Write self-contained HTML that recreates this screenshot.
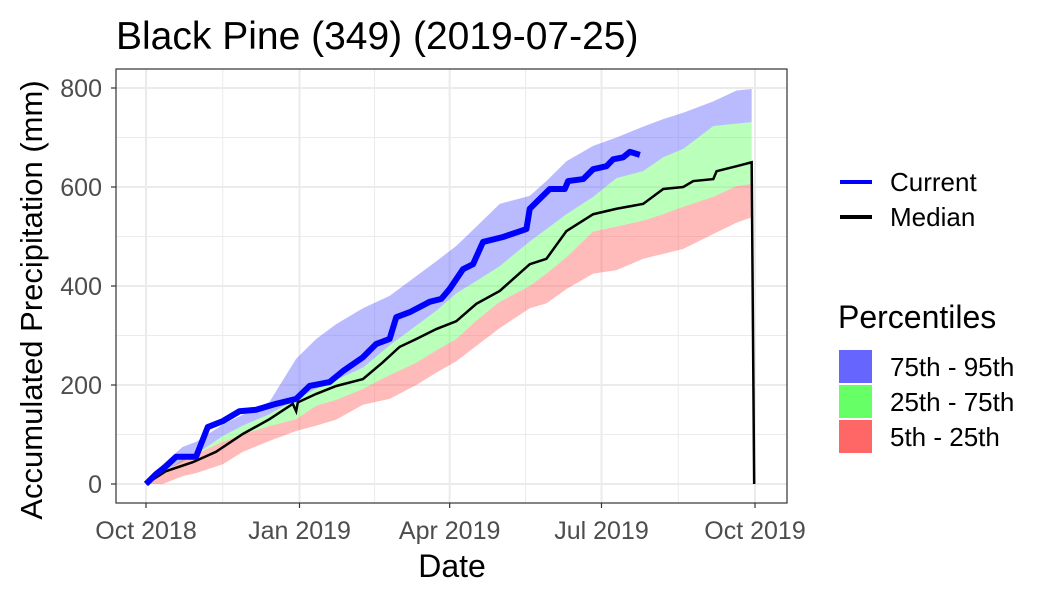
<!DOCTYPE html>
<html><head><meta charset="utf-8"><style>
body{margin:0;background:#fff;font-family:"Liberation Sans",sans-serif}
</style></head><body>
<svg id="c" width="1050" height="600" xmlns="http://www.w3.org/2000/svg">
<text x="116" y="49" font-size="39" fill="#000">Black Pine (349) (2019-07-25)</text>
<rect x="116" y="69" width="671" height="434" fill="#fff" stroke="none"/>
<g id="grid"></g><g id="bands"></g><g id="lines"></g>
<rect x="116" y="69" width="671" height="434" fill="none" stroke="#333" stroke-width="1.2"/>
<g id="axes" font-size="25" fill="#4d4d4d"></g>
<text x="452" y="577" font-size="32" text-anchor="middle">Date</text>
<text transform="translate(42,300) rotate(-90)" font-size="31" text-anchor="middle">Accumulated Precipitation (mm)</text>
<g>
<line x1="840" y1="182" x2="872" y2="182" stroke="#0000ff" stroke-width="4"/>
<text x="890" y="191" font-size="26">Current</text>
<line x1="840" y1="217" x2="872" y2="217" stroke="#000" stroke-width="4"/>
<text x="890" y="226" font-size="26">Median</text>
<text x="838" y="328" font-size="32">Percentiles</text>
<rect x="839" y="350" width="33" height="33" fill="#6666ff"/>
<text x="890" y="376" font-size="26">75th - 95th</text>
<rect x="839" y="385" width="33" height="33" fill="#66ff66"/>
<text x="890" y="411" font-size="26">25th - 75th</text>
<rect x="839" y="420" width="33" height="33" fill="#ff6666"/>
<text x="890" y="446" font-size="26">5th - 25th</text>
</g>
</svg>
<script>
const bandDays=[0,10,22,30,46,58,74,90,102,114,130,146,162,174,186,198,212,230,240,252,268,282,298,310,322,340,354,363];
const p95=[0,40,75,85,120,140,166,253,293,323,355,380,420,450,481,520,566,582,612,652,683,700,722,737,750,773,795,798];
const p75=[0,25,45,60,97,118,141,172,192,210,235,280,320,350,385,410,440,490,515,545,580,618,632,660,677,723,728,731];
const p25=[0,20,50,60,85,100,117,131,158,170,192,220,245,270,293,330,368,400,425,458,510,520,532,545,560,580,602,606];
const p05=[0,0,16,22,40,65,87,107,118,130,160,172,200,225,248,279,315,355,365,394,425,432,455,465,475,505,528,539];
const medDays=[0,12,28,42,58,74,88,90,91,102,114,130,142,152,162,174,186,198,212,230,240,252,268,282,298,310,322,328,340,342,354,363,364.5];
const median=[0,26,44,65,101,131,162,147,165,182,198,212,246,277,293,313,329,364,390,444,455,511,545,556,566,596,600,612,616,632,642,650,0];
const curDays=[0,6,12,18,30,37,46,56,66,78,90,98,110,118,130,138,146,150,158,170,177,182,190,196,202,214,228,230,242,251,253,262,268,276,280,286,290,296];
const current=[0,20,36,55,55,115,127,147,150,162,172,198,206,228,256,283,293,337,347,368,374,394,434,444,489,499,515,556,596,596,612,616,636,642,656,660,671,665];
const yTicks=[0,200,400,600,800];
const xTickDays=[0,92,182,273,365];
const xTickLabels=["Oct 2018","Jan 2019","Apr 2019","Jul 2019","Oct 2019"];
const X=d=>146+d*(609/365), Y=v=>484-v*0.495;
const NS="http://www.w3.org/2000/svg";
function mk(p,t,a){const e=document.createElementNS(NS,t);for(const k in a)e.setAttribute(k,a[k]);document.getElementById(p).appendChild(e);return e;}
for(let v=0;v<=800;v+=100){const l=mk('grid','line',{x1:116,x2:787,y1:Y(v),y2:Y(v),stroke:'#ebebeb','stroke-width':v%200?1:2});

}
for(let i=0;i<xTickDays.length;i++){const l=mk('grid','line',{x1:X(xTickDays[i]),x2:X(xTickDays[i]),y1:69,y2:503,stroke:'#ebebeb','stroke-width':2});


if(i<xTickDays.length-1){const m=(xTickDays[i]+xTickDays[i+1])/2;const n=mk('grid','line',{x1:X(m),x2:X(m),y1:69,y2:503,stroke:'#ebebeb','stroke-width':1});

}}
function band(lo,hi,col,name){let pts=bandDays.map((d,i)=>X(d)+','+Y(hi[i]));for(let i=bandDays.length-1;i>=0;i--)pts.push(X(bandDays[i])+','+Y(lo[i]));
const e=mk('bands','polygon',{points:pts.join(' '),fill:col,'fill-opacity':0.45});

}
band(p75,p95,'#6666ff','band-75-95');band(p25,p75,'#66ff66','band-25-75');band(p05,p25,'#ff6666','band-5-25');
const m=mk('lines','polyline',{points:medDays.map((d,i)=>X(d)+','+Y(median[i])).join(' '),fill:'none',stroke:'#000','stroke-width':2.5});


const c=mk('lines','polyline',{points:curDays.map((d,i)=>X(d)+','+Y(current[i])).join(' '),fill:'none',stroke:'#0000ff','stroke-width':6,'stroke-linejoin':'round'});


yTicks.forEach(v=>{mk('axes','line',{x1:111,x2:116,y1:Y(v),y2:Y(v),stroke:'#333','stroke-width':1.2});
const t=mk('axes','text',{x:102,y:Y(v)+9,'text-anchor':'end'});t.textContent=v;

});
xTickDays.forEach((d,i)=>{mk('axes','line',{x1:X(d),x2:X(d),y1:503,y2:508,stroke:'#333','stroke-width':1.2});
const t=mk('axes','text',{x:X(d),y:539,'text-anchor':'middle'});t.textContent=xTickLabels[i];

});
</script>
</body></html>
